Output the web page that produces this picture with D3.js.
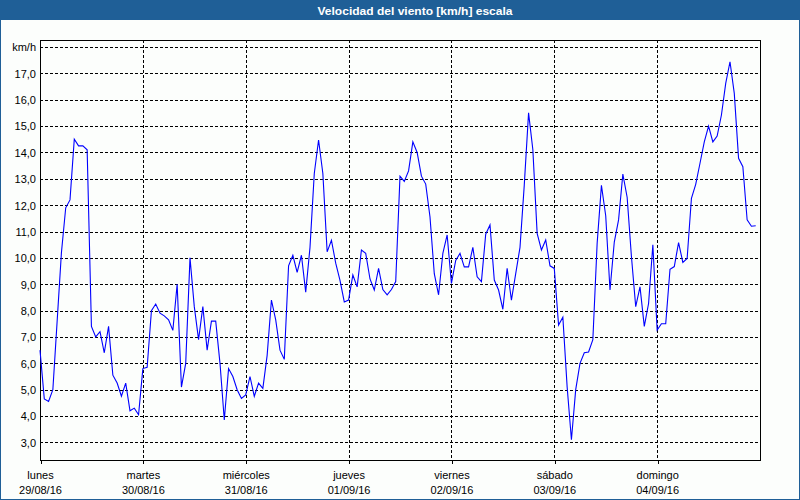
<!DOCTYPE html>
<html>
<head>
<meta charset="utf-8">
<script src="https://cdn.jsdelivr.net/npm/d3@7"></script>
<style>
  html, body { margin: 0; padding: 0; background: #fcfefc; }
  svg { display: block; }
  text { font-family: "Liberation Sans", Arial, sans-serif; }
</style>
</head>
<body>
<svg id="chart" width="800" height="500"></svg>
<script>
const title = "Velocidad del viento [km/h] escala";
const unitLabel = "km/h";
const days = ["lunes", "martes", "miércoles", "jueves", "viernes", "sábado", "domingo"];
const dates = ["29/08/16", "30/08/16", "31/08/16", "01/09/16", "02/09/16", "03/09/16", "04/09/16"];
const yTicks = [3, 4, 5, 6, 7, 8, 9, 10, 11, 12, 13, 14, 15, 16, 17, 18];
// hourly wind speed, km/h, from lunes 00:00 to domingo 23:00
const speed = [
  6.5, 4.65, 4.55, 5.0, 7.6, 10.2, 11.9, 12.2, 14.5, 14.25, 14.25, 14.1,
  7.4, 7.0, 7.2, 6.4, 7.4, 5.55, 5.25, 4.75, 5.25, 4.2, 4.3, 4.05,
  5.8, 5.85, 8.0, 8.25, 7.9, 7.8, 7.65, 7.25, 9.0, 5.1, 6.0, 10.0,
  8.15, 6.9, 8.15, 6.5, 7.6, 7.6, 6.0, 3.85, 5.8, 5.5, 5.0, 4.67,
  4.8, 5.5, 4.75, 5.25, 5.05, 6.3, 8.4, 7.65, 6.5, 6.15, 9.7, 10.1,
  9.45, 10.1, 8.7, 10.4, 13.2, 14.47, 13.2, 10.23, 10.67, 9.8, 9.15, 8.33,
  8.4, 9.35, 8.9, 10.3, 10.17, 9.2, 8.78, 9.6, 8.8, 8.6, 8.8, 9.1,
  13.1, 12.9, 13.3, 14.4, 14.0, 13.1, 12.8, 11.55, 9.4, 8.6, 10.17, 10.87,
  9.03, 9.9, 10.17, 9.66, 9.66, 10.4, 9.28, 9.1, 10.9, 11.25, 9.16, 8.78,
  8.05, 9.6, 8.4, 9.4, 10.4, 12.77, 15.5, 14.1, 10.93, 10.3, 10.68, 9.7,
  9.6, 7.45, 7.75, 5.1, 3.1, 5.0, 6.0, 6.4, 6.43, 6.9, 10.55, 12.75,
  11.6, 8.78, 10.6, 11.44, 13.18, 12.3, 10.05, 8.15, 8.9, 7.4, 8.27, 10.5,
  7.26, 7.5, 7.5, 9.57, 9.67, 10.58, 9.83, 9.98, 12.26, 12.79, 13.59, 14.4,
  15.0, 14.4, 14.62, 15.42, 16.62, 17.44, 16.24, 13.78, 13.46, 11.44, 11.2, 11.22
];

const W = 800, H = 500;
const L = 40, R = 760, T = 40, B = 460;
const svg = d3.select("#chart");

// background + outer border
svg.append("rect").attr("x", 0.5).attr("y", 0.5).attr("width", W - 1).attr("height", H - 1)
  .attr("fill", "#fcfefc").attr("stroke", "#1f5f97").attr("stroke-width", 1);
// title bar
svg.append("rect").attr("x", 0).attr("y", 0).attr("width", W).attr("height", 20).attr("fill", "#1f5f97");
svg.append("text").attr("x", 415).attr("y", 15).attr("text-anchor", "middle")
  .attr("fill", "#ffffff").attr("font-size", "11.5px").attr("font-weight", "bold")
  .attr("textLength", 195).attr("lengthAdjust", "spacingAndGlyphs").text(title);

const nHours = days.length * 24;
const x = d3.scaleLinear().domain([0, nHours]).range([L, R]);
const y = d3.scaleLinear().domain([3, 18]).range([442.4, 47]);
const px = v => Math.round(v) + 0.5;

// horizontal dashed gridlines
svg.append("g").selectAll("line").data(yTicks).join("line")
  .attr("x1", L).attr("x2", R)
  .attr("y1", d => px(y(d))).attr("y2", d => px(y(d)))
  .attr("stroke", "#000").attr("stroke-width", 1).attr("stroke-dasharray", "3,2")
  .attr("shape-rendering", "crispEdges");

// vertical dashed gridlines at day boundaries
const dayTicks = days.map((d, i) => i * 24);
svg.append("g").selectAll("line").data(dayTicks.slice(1)).join("line")
  .attr("x1", d => px(x(d))).attr("x2", d => px(x(d)))
  .attr("y1", T).attr("y2", B)
  .attr("stroke", "#000").attr("stroke-width", 1).attr("stroke-dasharray", "3,2")
  .attr("shape-rendering", "crispEdges");

// y axis labels
const yAxis = d3.axisLeft(y).tickValues(yTicks).tickSize(0).tickPadding(4)
  .tickFormat(d => d === 18 ? unitLabel : d3.format(".1f")(d).replace(".", ","));
const gy = svg.append("g").attr("transform", `translate(${L},0)`).call(yAxis);
gy.select(".domain").remove();
gy.selectAll("text").attr("font-size", "11px").attr("fill", "#000")
  .attr("font-family", "'Liberation Sans', Arial, sans-serif")
  .attr("x", -4).attr("dy", "0.35em");

// x axis
const xAxis = d3.axisBottom(x).tickValues(dayTicks).tickSize(4).tickFormat("");
const gx = svg.append("g").attr("transform", `translate(0,${B})`).call(xAxis);
gx.select(".domain").remove();
gx.selectAll(".tick line").attr("stroke", "#000").attr("shape-rendering", "crispEdges")
  .attr("transform", "translate(0.5,0)");
gx.selectAll(".tick text").each(function(d, i) {
  const t = d3.select(this);
  t.text(null).attr("y", 0).attr("dy", 0).attr("font-size", "11px").attr("fill", "#000")
    .attr("font-family", "'Liberation Sans', Arial, sans-serif");
  t.append("tspan").attr("x", 0).attr("y", 19).text(days[d / 24]);
  t.append("tspan").attr("x", 0).attr("y", 34).text(dates[d / 24]);
});

// plot frame
svg.append("rect").attr("x", L + 0.5).attr("y", T + 0.5).attr("width", R - L).attr("height", B - T)
  .attr("fill", "none").attr("stroke", "#000").attr("stroke-width", 1).attr("shape-rendering", "crispEdges");

// wind line
const line = d3.line().x((d, i) => x(i)).y(d => y(d));
svg.append("path").datum(speed).attr("d", line)
  .attr("fill", "none").attr("stroke", "#0000ff").attr("stroke-width", 1.1);
</script>
</body>
</html>
